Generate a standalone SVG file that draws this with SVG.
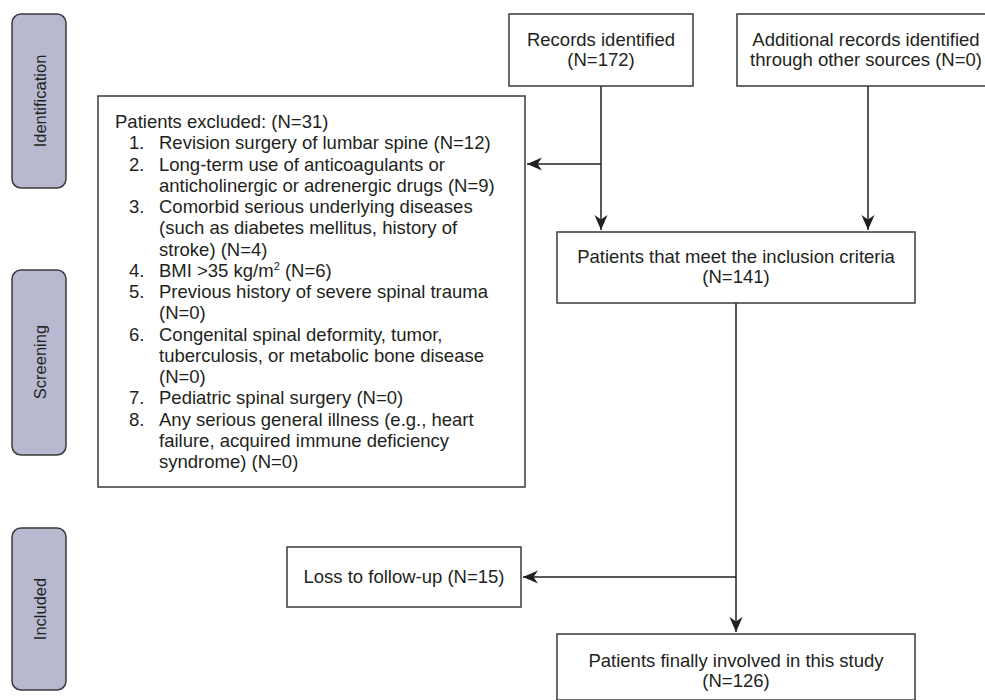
<svg xmlns="http://www.w3.org/2000/svg" width="985" height="700" viewBox="0 0 985 700">
<style>
.tab{fill:#b8b9d1;stroke:#3a3a3a;stroke-width:1.5}
.box{fill:#fff;stroke:#3a3a3a;stroke-width:1.5}
.t{font-family:"Liberation Sans",Arial,sans-serif;font-size:18.5px;fill:#231f20}
.tt{font-family:"Liberation Sans",Arial,sans-serif;font-size:16.5px;fill:#231f20;text-anchor:middle}
.c{text-anchor:middle}
.ln{fill:none;stroke:#231f20;stroke-width:1.5}
</style>
<defs>
<marker id="ah" markerUnits="userSpaceOnUse" markerWidth="20" markerHeight="16" viewBox="-16 -8 18 16" refX="0" refY="0" orient="auto">
<path d="M0,0 L-15,-6.5 L-10.5,0 L-15,6.5 Z" fill="#231f20"/>
</marker>
</defs>
<rect width="985" height="700" fill="#fff"/>
<g id="tab-identification">
<rect class="tab" x="12" y="14" width="54" height="174" rx="9"/>
<text class="tt" transform="translate(46,101) rotate(-90)">Identification</text>
</g>
<g id="tab-screening">
<rect class="tab" x="12" y="270" width="54" height="185" rx="9"/>
<text class="tt" transform="translate(46,362) rotate(-90)">Screening</text>
</g>
<g id="tab-included">
<rect class="tab" x="12" y="528" width="54" height="162" rx="9"/>
<text class="tt" transform="translate(46,609) rotate(-90)">Included</text>
</g>
<g id="connectors">
<path class="ln" d="M601,86 V230" marker-end="url(#ah)"/>
<path class="ln" d="M601,164 H527" marker-end="url(#ah)"/>
<path class="ln" d="M868,86 V230" marker-end="url(#ah)"/>
<path class="ln" d="M736,303 V632" marker-end="url(#ah)"/>
<path class="ln" d="M736,577 H523" marker-end="url(#ah)"/>
</g>
<g id="records">
<rect class="box" x="509" y="14" width="184" height="72"/>
<text class="t c" x="601" y="46">Records identified</text>
<text class="t c" x="601" y="66">(N=172)</text>
</g>
<g id="additional">
<rect class="box" x="737" y="14" width="260" height="72"/>
<text class="t c" x="866" y="46">Additional records identified</text>
<text class="t c" x="866" y="66">through other sources (N=0)</text>
</g>
<g id="excluded">
<rect class="box" x="98" y="96" width="427" height="391"/>
<text class="t" x="115" y="128">Patients excluded: (N=31)</text>
<text class="t" x="129" y="149.25">1.</text><text class="t" x="159" y="149.25">Revision surgery of lumbar spine (N=12)</text>
<text class="t" x="129" y="170.5">2.</text><text class="t" x="159" y="170.5">Long-term use of anticoagulants or</text>
<text class="t" x="159" y="191.75">anticholinergic or adrenergic drugs (N=9)</text>
<text class="t" x="129" y="213">3.</text><text class="t" x="159" y="213">Comorbid serious underlying diseases</text>
<text class="t" x="159" y="234.25">(such as diabetes mellitus, history of</text>
<text class="t" x="159" y="255.5">stroke) (N=4)</text>
<text class="t" x="129" y="276.75">4.</text><text class="t" x="159" y="276.75">BMI &gt;35 kg/m<tspan font-size="11" dy="-7">2</tspan><tspan dy="7"> (N=6)</tspan></text>
<text class="t" x="129" y="298">5.</text><text class="t" x="159" y="298">Previous history of severe spinal trauma</text>
<text class="t" x="159" y="319.25">(N=0)</text>
<text class="t" x="129" y="340.5">6.</text><text class="t" x="159" y="340.5">Congenital spinal deformity, tumor,</text>
<text class="t" x="159" y="361.75">tuberculosis, or metabolic bone disease</text>
<text class="t" x="159" y="383">(N=0)</text>
<text class="t" x="129" y="404.25">7.</text><text class="t" x="159" y="404.25">Pediatric spinal surgery (N=0)</text>
<text class="t" x="129" y="425.5">8.</text><text class="t" x="159" y="425.5">Any serious general illness (e.g., heart</text>
<text class="t" x="159" y="446.75">failure, acquired immune deficiency</text>
<text class="t" x="159" y="468">syndrome) (N=0)</text>
</g>
<g id="inclusion">
<rect class="box" x="557" y="232" width="358" height="71"/>
<text class="t c" x="736" y="263">Patients that meet the inclusion criteria</text>
<text class="t c" x="736" y="283">(N=141)</text>
</g>
<g id="loss">
<rect class="box" x="287" y="547" width="234" height="60"/>
<text class="t c" x="404" y="583">Loss to follow-up (N=15)</text>
</g>
<g id="final">
<rect class="box" x="557" y="634" width="358" height="66"/>
<text class="t c" x="736" y="667">Patients finally involved in this study</text>
<text class="t c" x="736" y="687">(N=126)</text>
</g>
</svg>
